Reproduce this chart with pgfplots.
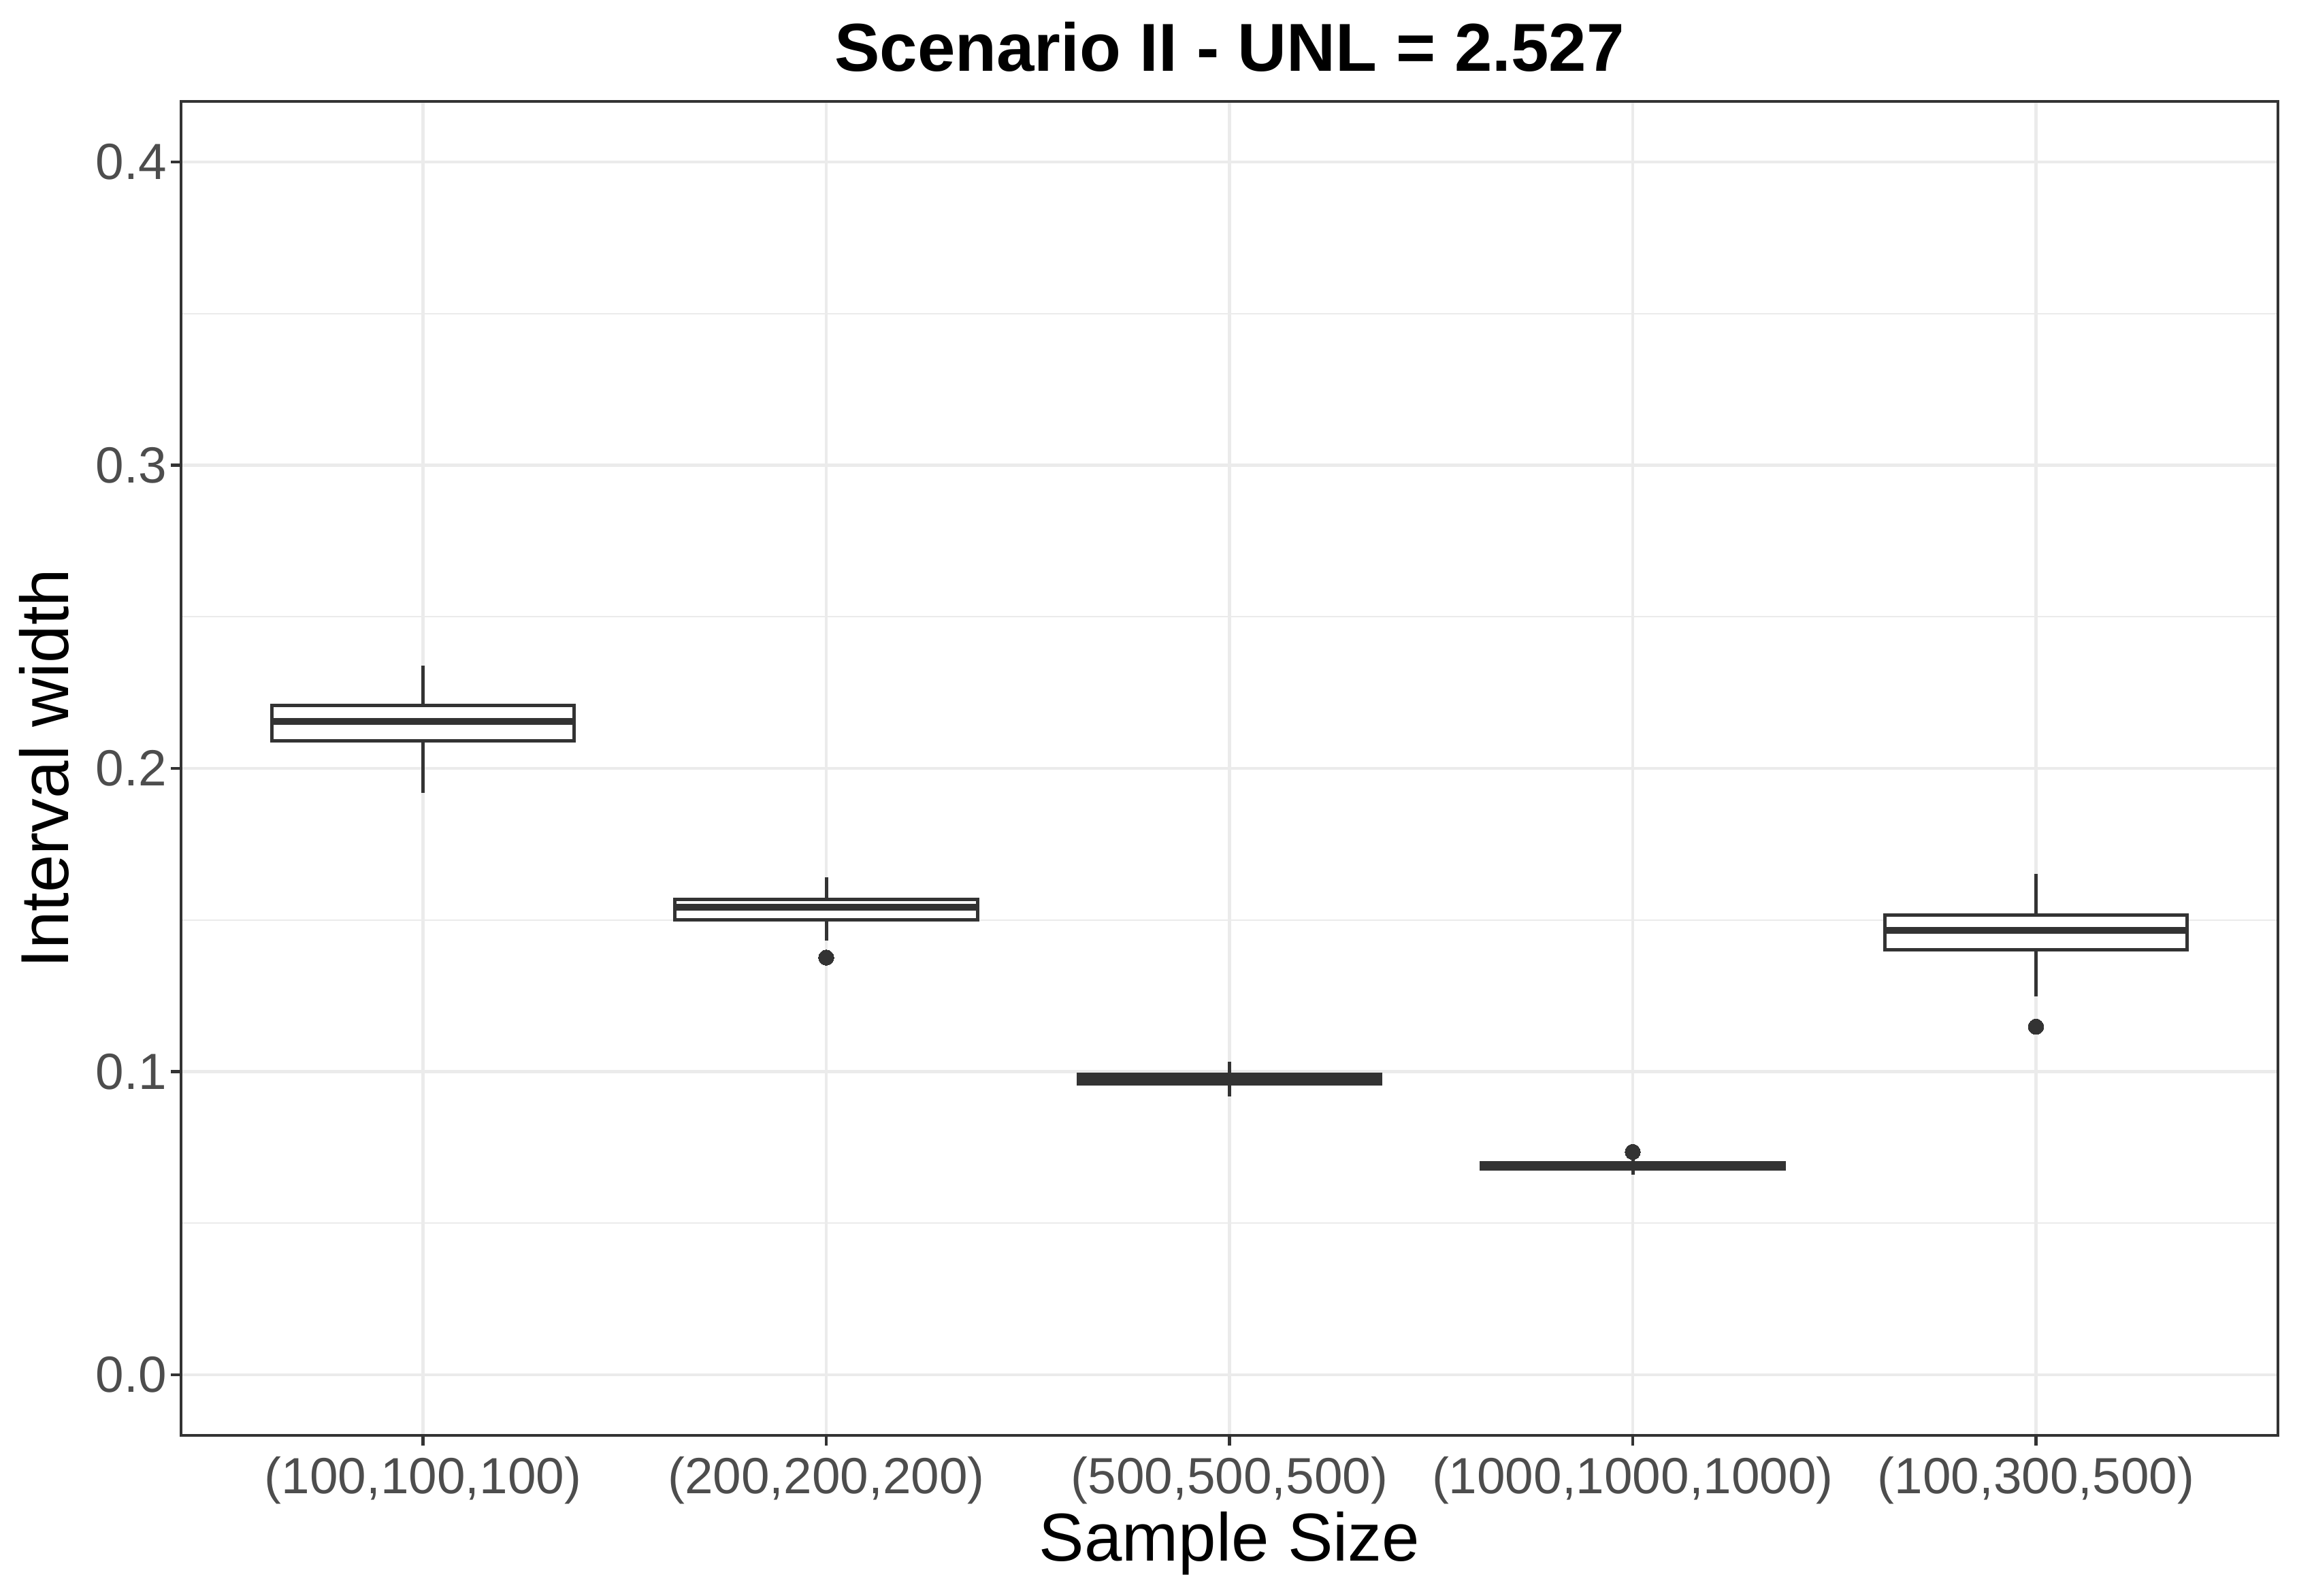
\documentclass[border=0pt]{standalone}
\usepackage{fontspec}
\setmainfont{Liberation Sans}
\usepackage{pgfplots}
\pgfplotsset{compat=1.18}
\definecolor{g92}{HTML}{EBEBEB}
\definecolor{g20}{HTML}{333333}
\definecolor{g30}{HTML}{4D4D4D}
\begin{document}
\begin{tikzpicture}
\useasboundingbox (-63.84bp,-56.64bp) rectangle (746.16bp,506.16bp);
\begin{axis}[
  scale only axis, width=739.44bp, height=470.4bp,
  clip=false,
  xmin=0.4, xmax=5.6, ymin=-0.02, ymax=0.42,
  xtick={1,2,3,4,5},
  xticklabels={{(100,100,100)},{(200,200,200)},{(500,500,500)},{(1000,1000,1000)},{(100,300,500)}},
  ytick={0,0.1,0.2,0.3,0.4},
  minor ytick={0.05,0.15,0.25,0.35},
  yticklabel style={/pgf/number format/fixed, /pgf/number format/fixed zerofill, /pgf/number format/precision=1, anchor=east, xshift=2bp},
  /pgf/number format/assume math mode=true,
  ticklabel style={font=\fontsize{18}{20}\selectfont, text=g30},
  xticklabel style={anchor=base, yshift=-17bp},
  xtick pos=bottom, ytick pos=left,
  tick align=outside,
  major tick length=3.6bp, minor tick length=0pt,
  tick style={draw=g20, line width=1bp},
  xmajorgrids, ymajorgrids, yminorgrids,
  major grid style={draw=g92, line width=1bp},
  minor grid style={draw=g92, line width=0.5bp},
  axis line style={draw=g20, line width=1bp},
  whisk/.style={draw=g20, line width=1.2bp, mark=none},
  boxs/.style={draw=g20, fill=white, line width=1.2bp, mark=none},
  med/.style={draw=g20, line width=2.4bp, mark=none},
  outl/.style={only marks, mark=*, mark size=2.7bp, mark options={fill=g20, draw=g20, line width=0pt}},
]
% (100,100,100)
\addplot[whisk] coordinates {(1,0.2208) (1,0.2340)};
\addplot[whisk] coordinates {(1,0.1920) (1,0.2092)};
\addplot[boxs] coordinates {(0.625,0.2092) (1.375,0.2092) (1.375,0.2208) (0.625,0.2208)} -- cycle;
\addplot[med] coordinates {(0.625,0.2156) (1.375,0.2156)};
% (200,200,200)
\addplot[whisk] coordinates {(2,0.1568) (2,0.1640)};
\addplot[whisk] coordinates {(2,0.1432) (2,0.1501)};
\addplot[boxs] coordinates {(1.625,0.1501) (2.375,0.1501) (2.375,0.1568) (1.625,0.1568)} -- cycle;
\addplot[med] coordinates {(1.625,0.1542) (2.375,0.1542)};
\addplot[outl] coordinates {(2,0.1376)};
% (500,500,500)
\addplot[whisk] coordinates {(3,0.0992) (3,0.1033)};
\addplot[whisk] coordinates {(3,0.0919) (3,0.0960)};
\addplot[boxs] coordinates {(2.625,0.0960) (3.375,0.0960) (3.375,0.0992) (2.625,0.0992)} -- cycle;
\addplot[med] coordinates {(2.625,0.0976) (3.375,0.0976)};
% (1000,1000,1000)
\addplot[whisk] coordinates {(4,0.0700) (4,0.0709)};
\addplot[whisk] coordinates {(4,0.0660) (4,0.0678)};
\addplot[boxs] coordinates {(3.625,0.0678) (4.375,0.0678) (4.375,0.0700) (3.625,0.0700)} -- cycle;
\addplot[med] coordinates {(3.625,0.0689) (4.375,0.0689)};
\addplot[outl] coordinates {(4,0.0735)};
% (100,300,500)
\addplot[whisk] coordinates {(5,0.1516) (5,0.1653)};
\addplot[whisk] coordinates {(5,0.1247) (5,0.1402)};
\addplot[boxs] coordinates {(4.625,0.1402) (5.375,0.1402) (5.375,0.1516) (4.625,0.1516)} -- cycle;
\addplot[med] coordinates {(4.625,0.1466) (5.375,0.1466)};
\addplot[outl] coordinates {(5,0.1148)};
\node[anchor=base, font=\fontsize{24}{28}\selectfont\bfseries] at ([yshift=10.6bp]rel axis cs:0.5,1) {Scenario II - UNL = 2.527};
\node[anchor=base, font=\fontsize{24}{28}\selectfont] at ([yshift=-44.3bp]rel axis cs:0.5,0) {Sample Size};
\node[anchor=base, rotate=90, font=\fontsize{24}{28}\selectfont] at ([xshift=-39.8bp]rel axis cs:0,0.5) {Interval width};
\end{axis}
\end{tikzpicture}
\end{document}
